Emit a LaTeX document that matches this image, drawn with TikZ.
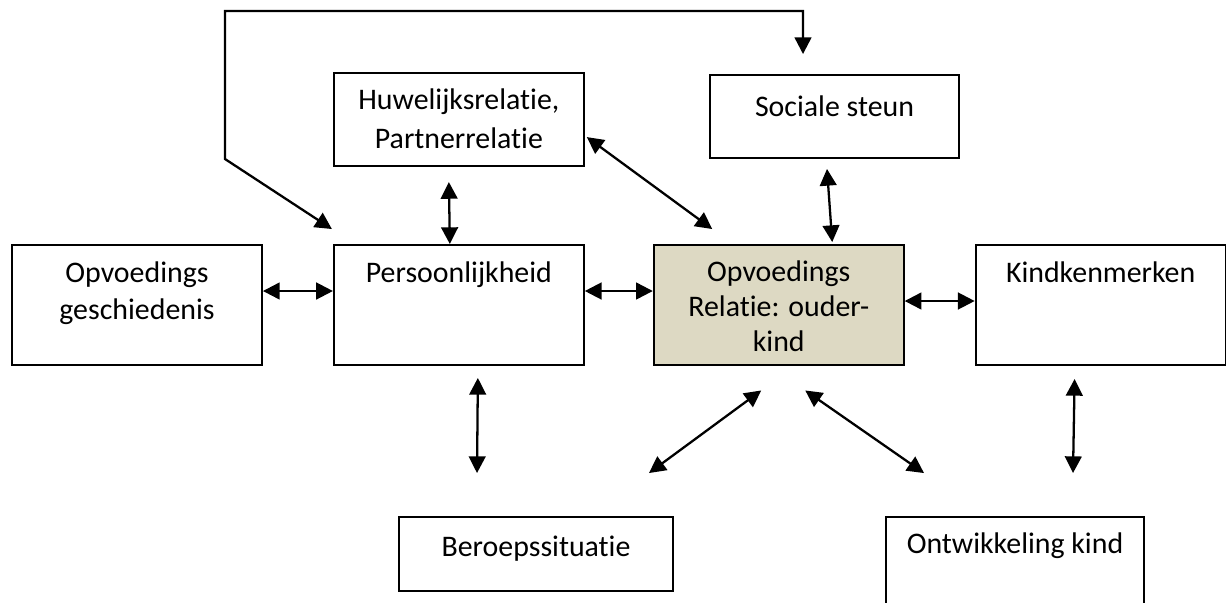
\documentclass[tikz,border=0pt]{standalone}
\usepackage{fontspec}
\setmainfont{Carlito}[Ligatures=NoCommon]
\usetikzlibrary{positioning, arrows.meta}
\definecolor{kleibruin}{HTML}{DDD9C3}
\tikzset{
  box/.style = {draw, line width=1.1pt, minimum width=5cm, minimum height=2.4cm, inner sep=0pt},
  txt/.style = {align=center, inner sep=0pt, font=\fontsize{17}{21}\selectfont},
  arr/.style = {line width=1.3pt, >={Triangle[length=9.5pt,width=9.5pt]}, <->},
}

\begin{document}
\begin{tikzpicture}[x=0.02cm, y=-0.02cm]
        \useasboundingbox (0,0) rectangle (1226,602);
        \clip (0,0) rectangle (1226,602);
        \node[box] (gesch) at (137,305) {}; %
        \node[box, right = 1.4cm of gesch] (pers) {}; %
        \node[box, fill=kleibruin, right = 1.36cm of pers] (rel) {}; %
        \node[box, right = 1.4cm of rel] (kind) {}; %
        \node[box, minimum height=1.86cm, above = 1.54cm of pers] (huw) {}; %
        \node[box, minimum width=4.98cm, minimum height=1.66cm] (soc) at (834.5,116.5) {}; %
        \node[box, minimum width=5.48cm, minimum height=1.48cm] (ber) at (536,554) {}; %
        \node[box, minimum width=5.16cm, minimum height=2.2cm] (ontw) at (1015,572) {}; %
        %
        \node[txt, below = 0.34cm of gesch.north] (gesch-t) {Opvoedings\\geschiedenis}; %
        \node[txt, below = 0.34cm of pers.north] (pers-t) {Persoonlijkheid}; %
        \node[txt, font=\fontsize{17}{20}\selectfont, below = 0.32cm of rel.north] (rel-t) {Opvoedings\\Relatie: ouder-\\kind}; %
        \node[txt, font=\fontsize{17}{22.5}\selectfont, below = 0.32cm of huw.north] (huw-t) {Huwelijksrelatie,\\Partnerrelatie}; %
        \node[txt, below = 0.34cm of kind.north] (kind-t) {Kindkenmerken}; %
        \node[txt, below = 0.42cm of soc.north] (soc-t) {Sociale steun}; %
        \node[txt, below = 0.40cm of ber.north] (ber-t) {Beroepssituatie}; %
        \node[txt, below = 0.32cm of ontw.north] (ontw-t) {Ontwikkeling kind}; %
        %
        \coordinate (bendB) at (225,159); %
        \coordinate (bendA) at (803,11); %
        \draw[arr] ([xshift=-0.02cm, yshift=0.3cm]pers.north west) -- (bendB) |- (bendA) -- ([xshift=-0.63cm, yshift=0.4cm]soc.north); %
        %
        \draw[arr] ([yshift=0.28cm]gesch.east) -- ([yshift=0.28cm]pers.west); %
        \draw[arr] ([yshift=0.28cm]pers.east) -- ([yshift=0.28cm]rel.west); %
        \draw[arr] ([yshift=0.08cm]rel.east) -- ([yshift=0.08cm]kind.west); %
        \draw[arr] ([xshift=-0.2cm, yshift=-0.3cm]huw.south) -- ([xshift=-0.18cm]pers.north); %
        \draw[arr] ([xshift=0.04cm, yshift=-0.35cm]huw.east) -- ([xshift=-1.33cm, yshift=0.3cm]rel.north); %
        \draw[arr] ([xshift=-0.15cm, yshift=-0.2cm]soc.south) -- ([xshift=1.07cm, yshift=0.04cm]rel.north); %
        \draw[arr] ([xshift=0.38cm, yshift=-0.24cm]pers.south) -- ([xshift=-1.18cm, yshift=0.86cm]ber.north); %
        \draw[arr] ([xshift=-0.35cm, yshift=-0.49cm]rel.south) -- ([xshift=2.26cm, yshift=0.86cm]ber.north); %
        \draw[arr] ([xshift=0.53cm, yshift=-0.49cm]rel.south) -- ([xshift=-1.82cm, yshift=0.86cm]ontw.north); %
        \draw[arr] ([xshift=-0.52cm, yshift=-0.26cm]kind.south) -- ([xshift=1.16cm, yshift=0.86cm]ontw.north); %
\end{tikzpicture}
\end{document}
